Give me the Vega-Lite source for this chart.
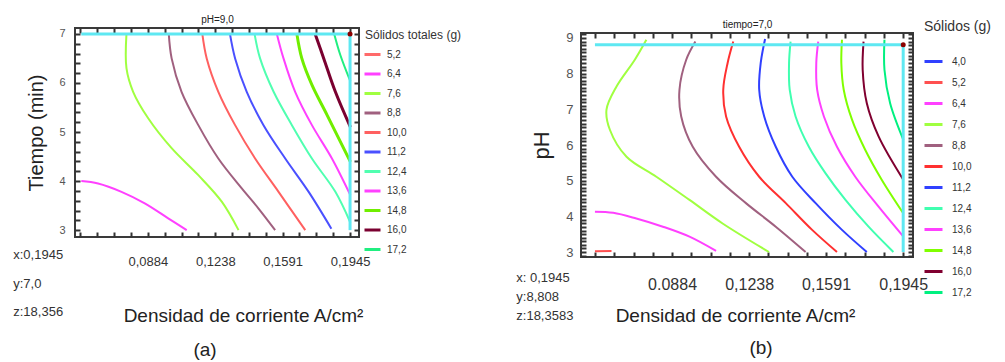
{
  "$schema": "https://vega.github.io/schema/vega-lite/v6.json",
  "background": "white",
  "padding": {"left": 12, "top": 13, "right": 0, "bottom": 0},
  "config": {
    "font": "Liberation Sans",
    "view": {"stroke": "#3a3a3a", "strokeWidth": 2},
    "axis": {"grid": false, "domain": false, "ticks": true, "zindex": 1, "tickColor": "#333", "tickWidth": 2, "tickSize": 5, "offset": -5, "labelOverlap": false, "labelFlush": false, "labelBound": false, "titleFontWeight": "normal", "titleColor": "#222", "labelColor": "#333"},
    "legend": {"titleFontWeight": "normal", "titleColor": "#333", "labelColor": "#333", "symbolType": "stroke"}
  },
  "spacing": 52,
  "resolve": {"scale": {"color": "independent"}, "legend": {"color": "independent"}},
  "datasets": {
    "a_lines": [
      {"s": 1, "nivel": "6,4", "i": 0, "x": 0.0535, "y": 4.0},
      {"s": 1, "nivel": "6,4", "i": 1, "x": 0.0623, "y": 3.95},
      {"s": 1, "nivel": "6,4", "i": 2, "x": 0.0746, "y": 3.78},
      {"s": 1, "nivel": "6,4", "i": 3, "x": 0.0868, "y": 3.545},
      {"s": 1, "nivel": "6,4", "i": 4, "x": 0.0991, "y": 3.24},
      {"s": 1, "nivel": "6,4", "i": 5, "x": 0.1088, "y": 3.0},
      {"s": 2, "nivel": "7,6", "i": 0, "x": 0.0772, "y": 7.0},
      {"s": 2, "nivel": "7,6", "i": 1, "x": 0.0772, "y": 6.3},
      {"s": 2, "nivel": "7,6", "i": 2, "x": 0.0807, "y": 5.82},
      {"s": 2, "nivel": "7,6", "i": 3, "x": 0.0886, "y": 5.28},
      {"s": 2, "nivel": "7,6", "i": 4, "x": 0.1009, "y": 4.67},
      {"s": 2, "nivel": "7,6", "i": 5, "x": 0.1149, "y": 4.12},
      {"s": 2, "nivel": "7,6", "i": 6, "x": 0.1272, "y": 3.58},
      {"s": 2, "nivel": "7,6", "i": 7, "x": 0.136, "y": 3.0},
      {"s": 3, "nivel": "8,8", "i": 0, "x": 0.0994, "y": 7.0},
      {"s": 3, "nivel": "8,8", "i": 1, "x": 0.1009, "y": 6.5},
      {"s": 3, "nivel": "8,8", "i": 2, "x": 0.1061, "y": 5.82},
      {"s": 3, "nivel": "8,8", "i": 3, "x": 0.1149, "y": 5.14},
      {"s": 3, "nivel": "8,8", "i": 4, "x": 0.1254, "y": 4.46},
      {"s": 3, "nivel": "8,8", "i": 5, "x": 0.1377, "y": 3.85},
      {"s": 3, "nivel": "8,8", "i": 6, "x": 0.1465, "y": 3.44},
      {"s": 3, "nivel": "8,8", "i": 7, "x": 0.1552, "y": 3.0},
      {"s": 4, "nivel": "10,0", "i": 0, "x": 0.117, "y": 7.0},
      {"s": 4, "nivel": "10,0", "i": 1, "x": 0.1193, "y": 6.5},
      {"s": 4, "nivel": "10,0", "i": 2, "x": 0.1254, "y": 5.82},
      {"s": 4, "nivel": "10,0", "i": 3, "x": 0.1342, "y": 5.14},
      {"s": 4, "nivel": "10,0", "i": 4, "x": 0.1447, "y": 4.46},
      {"s": 4, "nivel": "10,0", "i": 5, "x": 0.157, "y": 3.78},
      {"s": 4, "nivel": "10,0", "i": 6, "x": 0.171, "y": 3.0},
      {"s": 5, "nivel": "11,2", "i": 0, "x": 0.1315, "y": 7.0},
      {"s": 5, "nivel": "11,2", "i": 1, "x": 0.1342, "y": 6.5},
      {"s": 5, "nivel": "11,2", "i": 2, "x": 0.1403, "y": 5.82},
      {"s": 5, "nivel": "11,2", "i": 3, "x": 0.1491, "y": 5.14},
      {"s": 5, "nivel": "11,2", "i": 4, "x": 0.1605, "y": 4.46},
      {"s": 5, "nivel": "11,2", "i": 5, "x": 0.1728, "y": 3.78},
      {"s": 5, "nivel": "11,2", "i": 6, "x": 0.1847, "y": 3.03},
      {"s": 6, "nivel": "12,4", "i": 0, "x": 0.1444, "y": 7.0},
      {"s": 6, "nivel": "12,4", "i": 1, "x": 0.1473, "y": 6.5},
      {"s": 6, "nivel": "12,4", "i": 2, "x": 0.1544, "y": 5.82},
      {"s": 6, "nivel": "12,4", "i": 3, "x": 0.164, "y": 5.14},
      {"s": 6, "nivel": "12,4", "i": 4, "x": 0.1745, "y": 4.46},
      {"s": 6, "nivel": "12,4", "i": 5, "x": 0.1868, "y": 3.78},
      {"s": 6, "nivel": "12,4", "i": 6, "x": 0.1947, "y": 3.15},
      {"s": 7, "nivel": "13,6", "i": 0, "x": 0.1561, "y": 7.0},
      {"s": 7, "nivel": "13,6", "i": 1, "x": 0.1596, "y": 6.5},
      {"s": 7, "nivel": "13,6", "i": 2, "x": 0.1657, "y": 5.82},
      {"s": 7, "nivel": "13,6", "i": 3, "x": 0.1745, "y": 5.14},
      {"s": 7, "nivel": "13,6", "i": 4, "x": 0.185, "y": 4.46},
      {"s": 7, "nivel": "13,6", "i": 5, "x": 0.1947, "y": 3.71},
      {"s": 8, "nivel": "14,8", "i": 0, "x": 0.1666, "y": 7.0},
      {"s": 8, "nivel": "14,8", "i": 1, "x": 0.1692, "y": 6.5},
      {"s": 8, "nivel": "14,8", "i": 2, "x": 0.1745, "y": 5.96},
      {"s": 8, "nivel": "14,8", "i": 3, "x": 0.1824, "y": 5.35},
      {"s": 8, "nivel": "14,8", "i": 4, "x": 0.1947, "y": 4.39},
      {"s": 9, "nivel": "16,0", "i": 0, "x": 0.1762, "y": 7.0},
      {"s": 9, "nivel": "16,0", "i": 1, "x": 0.1807, "y": 6.5},
      {"s": 9, "nivel": "16,0", "i": 2, "x": 0.1868, "y": 5.82},
      {"s": 9, "nivel": "16,0", "i": 3, "x": 0.1947, "y": 5.1},
      {"s": 10, "nivel": "17,2", "i": 0, "x": 0.1862, "y": 7.0},
      {"s": 10, "nivel": "17,2", "i": 1, "x": 0.1894, "y": 6.57},
      {"s": 10, "nivel": "17,2", "i": 2, "x": 0.1947, "y": 6.03}
    ],
    "b_lines": [
      {"s": 1, "nivel": "5,2", "i": 0, "x": 0.053, "y": 3.02},
      {"s": 1, "nivel": "5,2", "i": 1, "x": 0.0606, "y": 3.03},
      {"s": 2, "nivel": "6,4", "i": 0, "x": 0.053, "y": 4.13},
      {"s": 2, "nivel": "6,4", "i": 1, "x": 0.0614, "y": 4.1},
      {"s": 2, "nivel": "6,4", "i": 2, "x": 0.072, "y": 3.94},
      {"s": 2, "nivel": "6,4", "i": 3, "x": 0.0842, "y": 3.71},
      {"s": 2, "nivel": "6,4", "i": 4, "x": 0.0964, "y": 3.43},
      {"s": 2, "nivel": "6,4", "i": 5, "x": 0.1086, "y": 3.03},
      {"s": 3, "nivel": "7,6", "i": 0, "x": 0.0766, "y": 8.95},
      {"s": 3, "nivel": "7,6", "i": 1, "x": 0.0713, "y": 8.39},
      {"s": 3, "nivel": "7,6", "i": 2, "x": 0.0629, "y": 7.64},
      {"s": 3, "nivel": "7,6", "i": 3, "x": 0.0583, "y": 6.99},
      {"s": 3, "nivel": "7,6", "i": 4, "x": 0.0599, "y": 6.42},
      {"s": 3, "nivel": "7,6", "i": 5, "x": 0.0675, "y": 5.67},
      {"s": 3, "nivel": "7,6", "i": 6, "x": 0.0812, "y": 5.11},
      {"s": 3, "nivel": "7,6", "i": 7, "x": 0.0964, "y": 4.46},
      {"s": 3, "nivel": "7,6", "i": 8, "x": 0.1116, "y": 3.8},
      {"s": 3, "nivel": "7,6", "i": 9, "x": 0.1329, "y": 3.0},
      {"s": 4, "nivel": "8,8", "i": 0, "x": 0.0991, "y": 8.9},
      {"s": 4, "nivel": "8,8", "i": 1, "x": 0.0949, "y": 8.39},
      {"s": 4, "nivel": "8,8", "i": 2, "x": 0.0918, "y": 7.55},
      {"s": 4, "nivel": "8,8", "i": 3, "x": 0.0926, "y": 6.8},
      {"s": 4, "nivel": "8,8", "i": 4, "x": 0.0979, "y": 5.95},
      {"s": 4, "nivel": "8,8", "i": 5, "x": 0.1086, "y": 5.11},
      {"s": 4, "nivel": "8,8", "i": 6, "x": 0.1223, "y": 4.37},
      {"s": 4, "nivel": "8,8", "i": 7, "x": 0.136, "y": 3.71},
      {"s": 4, "nivel": "8,8", "i": 8, "x": 0.1497, "y": 3.0},
      {"s": 5, "nivel": "10,0", "i": 0, "x": 0.1165, "y": 8.9},
      {"s": 5, "nivel": "10,0", "i": 1, "x": 0.1139, "y": 8.3},
      {"s": 5, "nivel": "10,0", "i": 2, "x": 0.1119, "y": 7.55},
      {"s": 5, "nivel": "10,0", "i": 3, "x": 0.1132, "y": 6.8},
      {"s": 5, "nivel": "10,0", "i": 4, "x": 0.1192, "y": 5.95},
      {"s": 5, "nivel": "10,0", "i": 5, "x": 0.1284, "y": 5.11},
      {"s": 5, "nivel": "10,0", "i": 6, "x": 0.1406, "y": 4.37},
      {"s": 5, "nivel": "10,0", "i": 7, "x": 0.1527, "y": 3.62},
      {"s": 5, "nivel": "10,0", "i": 8, "x": 0.1641, "y": 3.0},
      {"s": 6, "nivel": "11,2", "i": 0, "x": 0.1311, "y": 8.97},
      {"s": 6, "nivel": "11,2", "i": 1, "x": 0.1291, "y": 8.3},
      {"s": 6, "nivel": "11,2", "i": 2, "x": 0.1284, "y": 7.55},
      {"s": 6, "nivel": "11,2", "i": 3, "x": 0.1307, "y": 6.8},
      {"s": 6, "nivel": "11,2", "i": 4, "x": 0.136, "y": 5.95},
      {"s": 6, "nivel": "11,2", "i": 5, "x": 0.1436, "y": 5.11},
      {"s": 6, "nivel": "11,2", "i": 6, "x": 0.1543, "y": 4.37},
      {"s": 6, "nivel": "11,2", "i": 7, "x": 0.1664, "y": 3.62},
      {"s": 6, "nivel": "11,2", "i": 8, "x": 0.1778, "y": 3.0},
      {"s": 7, "nivel": "12,4", "i": 0, "x": 0.1428, "y": 8.9},
      {"s": 7, "nivel": "12,4", "i": 1, "x": 0.1421, "y": 8.3},
      {"s": 7, "nivel": "12,4", "i": 2, "x": 0.1424, "y": 7.55},
      {"s": 7, "nivel": "12,4", "i": 3, "x": 0.1451, "y": 6.8},
      {"s": 7, "nivel": "12,4", "i": 4, "x": 0.1512, "y": 5.95},
      {"s": 7, "nivel": "12,4", "i": 5, "x": 0.1588, "y": 5.21},
      {"s": 7, "nivel": "12,4", "i": 6, "x": 0.168, "y": 4.46},
      {"s": 7, "nivel": "12,4", "i": 7, "x": 0.1786, "y": 3.71},
      {"s": 7, "nivel": "12,4", "i": 8, "x": 0.19, "y": 3.0},
      {"s": 8, "nivel": "13,6", "i": 0, "x": 0.1555, "y": 8.9},
      {"s": 8, "nivel": "13,6", "i": 1, "x": 0.1546, "y": 8.3},
      {"s": 8, "nivel": "13,6", "i": 2, "x": 0.155, "y": 7.55},
      {"s": 8, "nivel": "13,6", "i": 3, "x": 0.1581, "y": 6.8},
      {"s": 8, "nivel": "13,6", "i": 4, "x": 0.1641, "y": 5.95},
      {"s": 8, "nivel": "13,6", "i": 5, "x": 0.1725, "y": 5.11},
      {"s": 8, "nivel": "13,6", "i": 6, "x": 0.1832, "y": 4.27},
      {"s": 8, "nivel": "13,6", "i": 7, "x": 0.1946, "y": 3.43},
      {"s": 9, "nivel": "14,8", "i": 0, "x": 0.1664, "y": 8.95},
      {"s": 9, "nivel": "14,8", "i": 1, "x": 0.1661, "y": 8.3},
      {"s": 9, "nivel": "14,8", "i": 2, "x": 0.1672, "y": 7.55},
      {"s": 9, "nivel": "14,8", "i": 3, "x": 0.171, "y": 6.71},
      {"s": 9, "nivel": "14,8", "i": 4, "x": 0.1771, "y": 5.86},
      {"s": 9, "nivel": "14,8", "i": 5, "x": 0.1847, "y": 5.02},
      {"s": 9, "nivel": "14,8", "i": 6, "x": 0.1946, "y": 4.08},
      {"s": 10, "nivel": "16,0", "i": 0, "x": 0.1763, "y": 8.9},
      {"s": 10, "nivel": "16,0", "i": 1, "x": 0.1759, "y": 8.11},
      {"s": 10, "nivel": "16,0", "i": 2, "x": 0.1778, "y": 7.17},
      {"s": 10, "nivel": "16,0", "i": 3, "x": 0.1832, "y": 6.24},
      {"s": 10, "nivel": "16,0", "i": 4, "x": 0.1946, "y": 5.02},
      {"s": 11, "nivel": "17,2", "i": 0, "x": 0.1859, "y": 8.95},
      {"s": 11, "nivel": "17,2", "i": 1, "x": 0.1859, "y": 8.11},
      {"s": 11, "nivel": "17,2", "i": 2, "x": 0.1885, "y": 7.17},
      {"s": 11, "nivel": "17,2", "i": 3, "x": 0.1946, "y": 6.14}
    ],
    "a_cursor": [
      {"x1": 0.0535, "x2": 0.1945, "y1": 7.0, "y2": 7.0},
      {"x1": 0.1945, "x2": 0.1945, "y1": 7.0, "y2": 3.0}
    ],
    "b_cursor": [
      {"x1": 0.053, "x2": 0.1945, "y1": 8.808, "y2": 8.808},
      {"x1": 0.1945, "x2": 0.1945, "y1": 8.808, "y2": 3.0}
    ],
    "a_point": [{"x": 0.1945, "y": 7.0, "label": "x:0,1945\ny:7,0\nz:18,356"}],
    "b_point": [{"x": 0.1945, "y": 8.808, "label": "x: 0,1945\ny:8,808\nz:18,3583"}]
  },
  "hconcat": [
    {
      "width": 284,
      "height": 209,
      "title": {"text": "(a)", "orient": "bottom", "fontSize": 19, "fontWeight": "normal", "color": "#222", "offset": 16, "dx": -12},
      "resolve": {"axis": {"x": "independent", "y": "independent"}},
      "layer": [
        {
          "data": {"name": "a_lines"},
          "mark": {"type": "line", "interpolate": "catmull-rom"},
          "encoding": {
            "x": {"field": "x", "type": "quantitative", "scale": {"domain": [0.0502, 0.1992], "nice": false, "zero": false},
              "axis": {"orient": "bottom", "values": [0.053, 0.06185, 0.0707, 0.07955, 0.0884, 0.09725, 0.1061, 0.11495, 0.1238, 0.13263, 0.14145, 0.15028, 0.1591, 0.16795, 0.1768, 0.18565, 0.1945],
                "labelExpr": "indexof([0.0884, 0.1238, 0.1591, 0.1945], datum.value) >= 0 ? replace(format(datum.value, '.4f'), '.', ',') : ''",
                "labelFontSize": 13, "labelPadding": 18,
                "title": "Densidad de corriente A/cm²", "titleFontSize": 19, "titlePadding": 38, "titleX": 168}},
            "y": {"field": "y", "type": "quantitative", "scale": {"domain": [2.86, 7.12], "nice": false, "zero": false},
              "axis": {"orient": "left", "values": [3, 3.2, 3.4, 3.6, 3.8, 4, 4.2, 4.4, 4.6, 4.8, 5, 5.2, 5.4, 5.6, 5.8, 6, 6.2, 6.4, 6.6, 6.8, 7],
                "labelExpr": "abs(datum.value - round(datum.value)) < 0.01 ? format(datum.value, 'd') : ''",
                "labelFontSize": 11, "labelColor": "#555", "labelPadding": 10,
                "title": "Tiempo (min)", "titleFontSize": 20, "titlePadding": 12}},
            "color": {"field": "nivel", "type": "nominal",
              "scale": {"domain": ["5,2", "6,4", "7,6", "8,8", "10,0", "11,2", "12,4", "13,6", "14,8", "16,0", "17,2"],
                "range": ["#ff6a6a", "#ff40ff", "#a0ff40", "#a0607f", "#ff6060", "#4a50ff", "#50ffb0", "#ff40ff", "#70ee00", "#7a0030", "#20ee80"]},
              "legend": {"title": "Sólidos totales (g)", "orient": "none", "legendX": 290, "legendY": 2, "titleFontSize": 12, "titlePadding": 3, "labelFontSize": 10, "symbolSize": 256, "symbolStrokeWidth": 3, "symbolOffset": -2, "rowPadding": 3.5, "labelOffset": 5}},
            "detail": {"field": "s"},
            "order": {"field": "i"},
            "strokeWidth": {"condition": {"test": "datum.nivel == '14,8' || datum.nivel == '16,0'", "value": 3}, "value": 2}
          }
        },
        {
          "data": {"name": "a_cursor"},
          "mark": {"type": "rule", "color": "#5ee8f2", "strokeWidth": 3},
          "encoding": {
            "x": {"field": "x1", "type": "quantitative",
              "axis": {"orient": "top", "values": [0.053, 0.06185, 0.0707, 0.07955, 0.0884, 0.09725, 0.1061, 0.11495, 0.1238, 0.13263, 0.14145, 0.15028, 0.1591, 0.16795, 0.1768, 0.18565, 0.1945],
                "labels": false, "title": "pH=9,0", "titleFontSize": 10, "titlePadding": 3}},
            "x2": {"field": "x2"},
            "y": {"field": "y1", "type": "quantitative",
              "axis": {"orient": "right", "values": [3, 3.2, 3.4, 3.6, 3.8, 4, 4.2, 4.4, 4.6, 4.8, 5, 5.2, 5.4, 5.6, 5.8, 6, 6.2, 6.4, 6.6, 6.8, 7],
                "labels": false, "title": null}},
            "y2": {"field": "y2"}
          }
        },
        {
          "data": {"name": "a_point"},
          "mark": {"type": "point", "filled": true, "color": "#8b0000", "size": 25, "opacity": 1},
          "encoding": {
            "x": {"field": "x", "type": "quantitative", "axis": null},
            "y": {"field": "y", "type": "quantitative", "axis": null}
          }
        },
        {
          "data": {"name": "a_point"},
          "mark": {"type": "text", "align": "left", "baseline": "middle", "lineBreak": "\n", "lineHeight": 28.5, "fontSize": 13, "color": "#333", "clip": false},
          "encoding": {
            "x": {"datum": 0.0178, "type": "quantitative", "axis": null},
            "y": {"datum": 2.49, "type": "quantitative", "axis": null},
            "text": {"field": "label"}
          }
        }
      ]
    },
    {
      "bounds": "flush",
      "spacing": 4,
      "vconcat": [
        {
          "width": 332,
          "height": 1,
          "data": {"values": []},
          "mark": {"type": "point", "opacity": 0},
          "view": {"stroke": null}
        },
        {
          "width": 332,
          "height": 224,
          "title": {"text": "(b)", "orient": "bottom", "fontSize": 19, "fontWeight": "normal", "color": "#222", "offset": 14, "dx": 14},
          "resolve": {"axis": {"x": "independent", "y": "independent"}},
          "layer": [
            {
              "data": {"name": "b_lines"},
              "mark": {"type": "line", "interpolate": "catmull-rom"},
              "encoding": {
                "x": {"field": "x", "type": "quantitative", "scale": {"domain": [0.0466, 0.199], "nice": false, "zero": false},
                  "axis": {"orient": "bottom", "values": [0.053, 0.06185, 0.0707, 0.07955, 0.0884, 0.09725, 0.1061, 0.11495, 0.1238, 0.13263, 0.14145, 0.15028, 0.1591, 0.16795, 0.1768, 0.18565, 0.1945],
                    "labelExpr": "datum.value == 0.0884 ? '0.0884' : (indexof([0.1238, 0.1591, 0.1945], datum.value) >= 0 ? replace(format(datum.value, '.4f'), '.', ',') : '')",
                    "labelFontSize": 16, "labelPadding": 19,
                    "title": "Densidad de corriente A/cm²", "titleFontSize": 19, "titlePadding": 14, "titleX": 154}},
                "y": {"field": "y", "type": "quantitative", "scale": {"domain": [2.86, 9.14], "nice": false, "zero": false},
                  "axis": {"orient": "left", "values": [2.9, 3, 3.1, 3.2, 3.3, 3.4, 3.5, 3.6, 3.7, 3.8, 3.9, 4, 4.1, 4.2, 4.3, 4.4, 4.5, 4.6, 4.7, 4.8, 4.9, 5, 5.1, 5.2, 5.3, 5.4, 5.5, 5.6, 5.7, 5.8, 5.9, 6, 6.1, 6.2, 6.3, 6.4, 6.5, 6.6, 6.7, 6.8, 6.9, 7, 7.1, 7.2, 7.3, 7.4, 7.5, 7.6, 7.7, 7.8, 7.9, 8, 8.1, 8.2, 8.3, 8.4, 8.5, 8.6, 8.7, 8.8, 8.9, 9, 9.1],
                    "labelExpr": "abs(datum.value - round(datum.value)) < 0.01 ? format(datum.value, 'd') : ''",
                    "labelFontSize": 13, "labelColor": "#555", "labelPadding": 8,
                    "title": "pH", "titleFontSize": 22, "titlePadding": 12}},
                "color": {"field": "nivel", "type": "nominal",
                  "scale": {"domain": ["4,0", "5,2", "6,4", "7,6", "8,8", "10,0", "11,2", "12,4", "13,6", "14,8", "16,0", "17,2"],
                    "range": ["#3040ff", "#ff5050", "#ff40ff", "#a0ff40", "#a0607f", "#ff3030", "#3040ff", "#40ffb0", "#ff40ff", "#80ff00", "#800030", "#00f080"]},
                  "legend": {"title": "Sólidos (g)", "orient": "none", "legendX": 343, "legendY": -8, "titleFontSize": 14, "titlePadding": 17, "labelFontSize": 10, "symbolSize": 324, "symbolStrokeWidth": 3, "symbolOffset": -1, "rowPadding": 4.0, "labelOffset": 8}},
                "detail": {"field": "s"},
                "order": {"field": "i"},
                "strokeWidth": {"value": 2}
              }
            },
            {
              "data": {"name": "b_cursor"},
              "mark": {"type": "rule", "color": "#5ee8f2", "strokeWidth": 3},
              "encoding": {
                "x": {"field": "x1", "type": "quantitative",
                  "axis": {"orient": "top", "values": [0.053, 0.06185, 0.0707, 0.07955, 0.0884, 0.09725, 0.1061, 0.11495, 0.1238, 0.13263, 0.14145, 0.15028, 0.1591, 0.16795, 0.1768, 0.18565, 0.1945],
                    "labels": false, "title": "tiempo=7,0", "titleFontSize": 10, "titlePadding": 3}},
                "x2": {"field": "x2"},
                "y": {"field": "y1", "type": "quantitative",
                  "axis": {"orient": "right", "values": [2.9, 3, 3.1, 3.2, 3.3, 3.4, 3.5, 3.6, 3.7, 3.8, 3.9, 4, 4.1, 4.2, 4.3, 4.4, 4.5, 4.6, 4.7, 4.8, 4.9, 5, 5.1, 5.2, 5.3, 5.4, 5.5, 5.6, 5.7, 5.8, 5.9, 6, 6.1, 6.2, 6.3, 6.4, 6.5, 6.6, 6.7, 6.8, 6.9, 7, 7.1, 7.2, 7.3, 7.4, 7.5, 7.6, 7.7, 7.8, 7.9, 8, 8.1, 8.2, 8.3, 8.4, 8.5, 8.6, 8.7, 8.8, 8.9, 9, 9.1],
                    "labels": false, "title": null}},
                "y2": {"field": "y2"}
              }
            },
            {
              "data": {"name": "b_point"},
              "mark": {"type": "point", "filled": true, "color": "#8b0000", "size": 25, "opacity": 1},
              "encoding": {
                "x": {"field": "x", "type": "quantitative", "axis": null},
                "y": {"field": "y", "type": "quantitative", "axis": null}
              }
            },
            {
              "data": {"name": "b_point"},
              "mark": {"type": "text", "align": "left", "baseline": "middle", "lineBreak": "\n", "lineHeight": 19, "fontSize": 13, "color": "#333", "clip": false},
              "encoding": {
                "x": {"datum": 0.0169, "type": "quantitative", "axis": null},
                "y": {"datum": 2.28, "type": "quantitative", "axis": null},
                "text": {"field": "label"}
              }
            }
          ]
        }
      ]
    }
  ]
}
